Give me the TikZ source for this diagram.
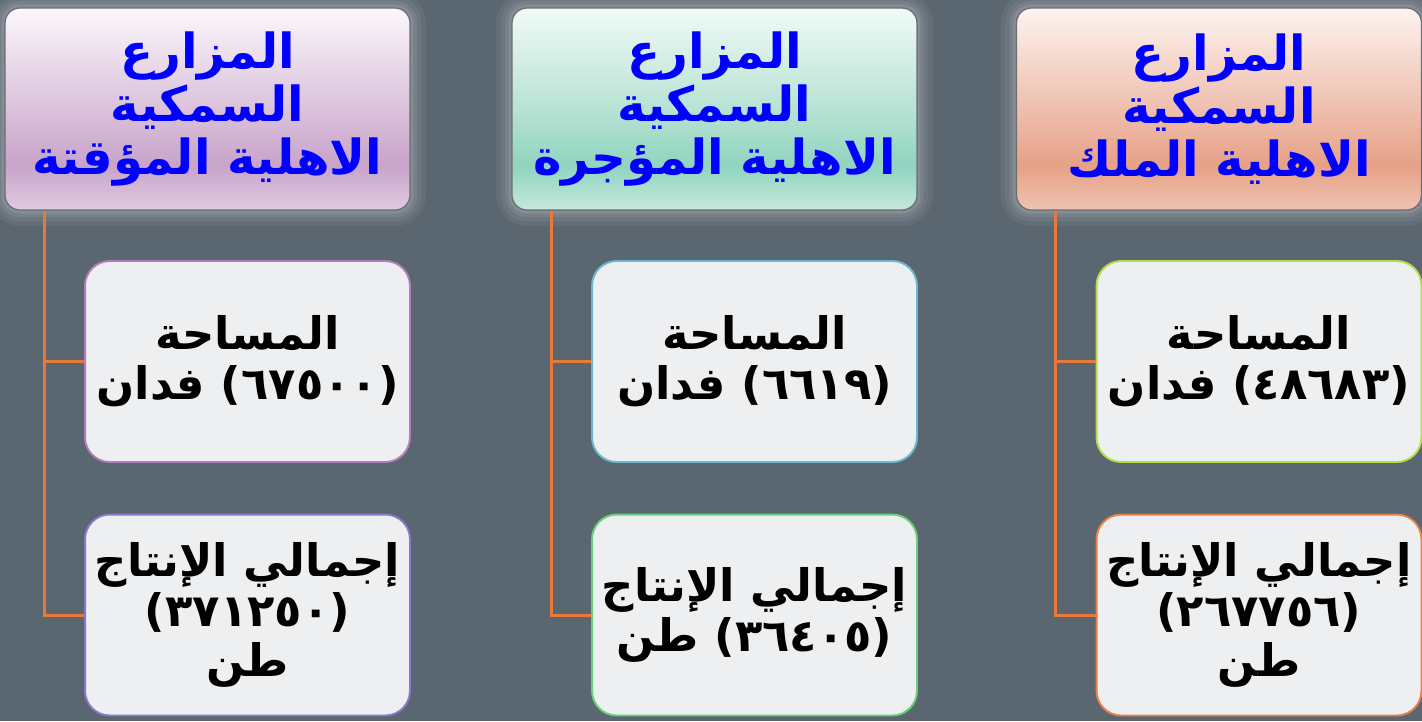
\documentclass[tikz,border=0pt]{standalone}
\usepackage{fontspec}
\newfontfamily\arabicfont[Script=Arabic]{DejaVu Sans}
\TeXXeTstate=1
\usetikzlibrary{positioning}
\definecolor{slate}{HTML}{5B6770}
\definecolor{leaffill}{HTML}{EEEFF1}
\definecolor{linkorange}{HTML}{E8793A}
\definecolor{headline}{HTML}{6E6E6E}
\definecolor{lilA}{HTML}{DFCCE1}
\definecolor{lilB}{HTML}{C8A3CA}
\definecolor{lilC}{HTML}{DDC6DE}
\definecolor{lilD}{HTML}{FBF7FB}
\definecolor{tealA}{HTML}{C4E8DC}
\definecolor{tealB}{HTML}{90D4BF}
\definecolor{tealC}{HTML}{BDE4D7}
\definecolor{tealD}{HTML}{F0FAF6}
\definecolor{salA}{HTML}{EFC3B2}
\definecolor{salB}{HTML}{E6A186}
\definecolor{salC}{HTML}{EFC3B3}
\definecolor{salD}{HTML}{FDF3EF}
\pgfdeclareverticalshading{hdshL}{100bp}{color(0bp)=(lilA); color(25bp)=(lilA); color(36bp)=(lilB); color(52bp)=(lilC); color(75bp)=(lilD); color(100bp)=(lilD)}
\pgfdeclareverticalshading{hdshM}{100bp}{color(0bp)=(tealA); color(25bp)=(tealA); color(36bp)=(tealB); color(52bp)=(tealC); color(75bp)=(tealD); color(100bp)=(tealD)}
\pgfdeclareverticalshading{hdshR}{100bp}{color(0bp)=(salA); color(25bp)=(salA); color(36bp)=(salB); color(52bp)=(salC); color(75bp)=(salD); color(100bp)=(salD)}
\tikzset{
  glow/.style={preaction={draw=#1, draw opacity=0.05, line width=18pt},
               preaction={draw=#1, draw opacity=0.06, line width=13pt},
               preaction={draw=#1, draw opacity=0.08, line width=8pt},
               preaction={draw=#1, draw opacity=0.10, line width=4pt}},
  head/.style={draw=headline, line width=0.7pt, rounded corners=8.5pt, shade,
               minimum width=8.1cm, minimum height=4.04cm, inner sep=0pt,
               align=center, text=blue,
               font={\arabicfont\bfseries\fontsize{27.5pt}{30.2pt}\selectfont}},
  leaf/.style={fill=leaffill, line width=1.1pt, rounded corners=14pt,
               minimum width=6.5cm, minimum height=4.02cm, inner sep=0pt,
               align=center, text=black,
               font={\arabicfont\bfseries\fontsize{25.5pt}{28.5pt}\selectfont}},
  link/.style={draw=linkorange, line width=1.7pt}
}
\begin{document}
\begin{tikzpicture}[x=0.02cm, y=-0.02cm]
  \fill[slate] (0,0) rectangle (1422,721);
  \useasboundingbox (0,0) rectangle (1422,721);

  \node[head, glow=white, shading=hdshL] (hdL) at (207.5,109)
    {\beginR المزارع\endR\\\beginR السمكية\endR\\\beginR الاهلية المؤقتة\endR};
  \node[head, glow=white, shading=hdshM] (hdM) at (714.5,109)
    {\beginR المزارع\endR\\\beginR السمكية\endR\\\beginR الاهلية المؤجرة\endR};
  \node[head, glow=white, shading=hdshR] (hdR) at (1219,109)
    {\beginR المزارع\endR\\\beginR السمكية\endR\\\beginR الاهلية الملك\endR};

  \node[leaf, draw={rgb,255:red,180;green,124;blue,184}] (arL) at (247.5,361.5)
    {\beginR المساحة\endR\\\beginR (٦٧٥٠٠) فدان\endR};
  \node[leaf, draw={rgb,255:red,136;green,120;blue,208}] (prL) at (247.5,615)
    {\beginR إجمالي الإنتاج\endR\\\beginR (٣٧١٢٥٠)\endR\\\beginR طن\endR};
  \node[leaf, draw={rgb,255:red,108;green,184;blue,204}] (arM) at (754.5,361.5)
    {\beginR المساحة\endR\\\beginR (٦٦١٩) فدان\endR};
  \node[leaf, draw={rgb,255:red,104;green,208;blue,120}] (prM) at (754.5,615)
    {\beginR إجمالي الإنتاج\endR\\\beginR (٣٦٤٠٥) طن\endR};
  \node[leaf, draw={rgb,255:red,180;green,220;blue,72}] (arR) at (1259,361.5)
    {\beginR المساحة\endR\\\beginR (٤٨٦٨٣) فدان\endR};
  \node[leaf, draw={rgb,255:red,232;green,128;blue,76}] (prR) at (1259,615)
    {\beginR إجمالي الإنتاج\endR\\\beginR (٢٦٧٧٥٦)\endR\\\beginR طن\endR};

  \draw[link] ([xshift=0.8cm]hdL.south west) |- (arL.west);
  \draw[link] ([xshift=0.8cm]hdL.south west) |- (prL.west);
  \draw[link] ([xshift=0.8cm]hdM.south west) |- (arM.west);
  \draw[link] ([xshift=0.8cm]hdM.south west) |- (prM.west);
  \draw[link] ([xshift=0.8cm]hdR.south west) |- (arR.west);
  \draw[link] ([xshift=0.8cm]hdR.south west) |- (prR.west);
\end{tikzpicture}
\end{document}
